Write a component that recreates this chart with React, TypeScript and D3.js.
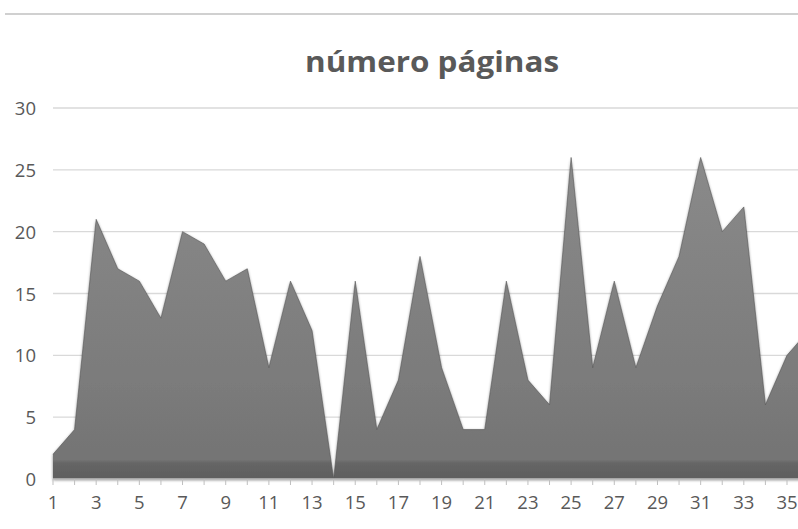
import { useMemo } from 'react'
import * as d3 from 'd3'

const categories: number[] = Array.from({ length: 36 }, (_, i) => i + 1)
const pages: number[] = [2, 4, 21, 17, 16, 13, 20, 19, 16, 17, 9, 16, 12, 0, 16, 4, 8, 18, 9, 4, 4, 16, 8, 6, 26, 9, 16, 9, 14, 18, 26, 20, 22, 6, 10, 12]
const yTicks: number[] = [0, 5, 10, 15, 20, 25, 30]
const xLabels: number[] = categories.filter(c => c % 2 === 1)
const title = 'número páginas'

const W = 798
const H = 529

export default function App() {
  const x = useMemo(() => d3.scaleLinear().domain([1, 35]).range([53, 787]), [])
  const y = useMemo(() => d3.scaleLinear().domain([0, 30]).range([479, 108]), [])

  const data = categories.map((c, i) => ({ c, v: pages[i] }))
  const area = d3.area<{ c: number; v: number }>()
    .x(d => x(d.c))
    .y0(y(0))
    .y1(d => y(d.v))
  const line = d3.line<{ c: number; v: number }>()
    .x(d => x(d.c))
    .y(d => y(d.v))

  return (
    <svg width={W} height={H} style={{ position: 'absolute', left: 0, top: 0, background: '#fff' }}
      fontFamily="'Open Sans', 'Noto Sans', sans-serif">
      <defs>
        <linearGradient id="areaGrad" x1="0" y1={y(26)} x2="0" y2={y(0)} gradientUnits="userSpaceOnUse">
          <stop offset="0%" stopColor="#8a8a8a" />
          <stop offset="70%" stopColor="#7b7b7b" />
          <stop offset="94%" stopColor="#747474" />
          <stop offset="95%" stopColor="#666" />
          <stop offset="100%" stopColor="#5e5e5e" />
        </linearGradient>
        <filter id="soft" x="-5%" y="-5%" width="110%" height="110%">
          <feGaussianBlur in="SourceAlpha" stdDeviation="1.5" />
          <feOffset dx="0" dy="1" result="b" />
          <feComponentTransfer><feFuncA type="linear" slope="0.5" /></feComponentTransfer>
          <feMerge><feMergeNode /><feMergeNode in="SourceGraphic" /></feMerge>
        </filter>
      </defs>

      <line x1={5} x2={W} y1={14} y2={14} stroke="#d0d0d0" strokeWidth={2} />

      <text x={432} y={72} textAnchor="middle" fontSize={29} fontWeight={700} fill="#595959"
        textLength={254} lengthAdjust="spacingAndGlyphs">{title}</text>

      {yTicks.filter(t => t > 0).map(t => (
        <line key={t} x1={53} x2={W} y1={y(t)} y2={y(t)} stroke="#d9d9d9" strokeWidth={1.3} />
      ))}
      {yTicks.map(t => (
        <text key={t} x={36} y={y(t) + 7} textAnchor="end" fontSize={18.5} fill="#595959">{t}</text>
      ))}

      <path d={area(data) ?? ''} fill="url(#areaGrad)" filter="url(#soft)" />
      <path d={line(data) ?? ''} fill="none" stroke="#555" strokeWidth={1} strokeOpacity={0.6} />

      <line x1={53} x2={W} y1={y(0)} y2={y(0)} stroke="#bfbfbf" strokeWidth={1.3} />
      {categories.map(c => (
        <line key={c} x1={x(c)} x2={x(c)} y1={y(0)} y2={y(0) + 6} stroke="#bfbfbf" strokeWidth={1} />
      ))}
      {xLabels.map(c => (
        <text key={c} x={x(c)} y={509} textAnchor="middle" fontSize={18.5} fill="#595959">{c}</text>
      ))}
    </svg>
  )
}
